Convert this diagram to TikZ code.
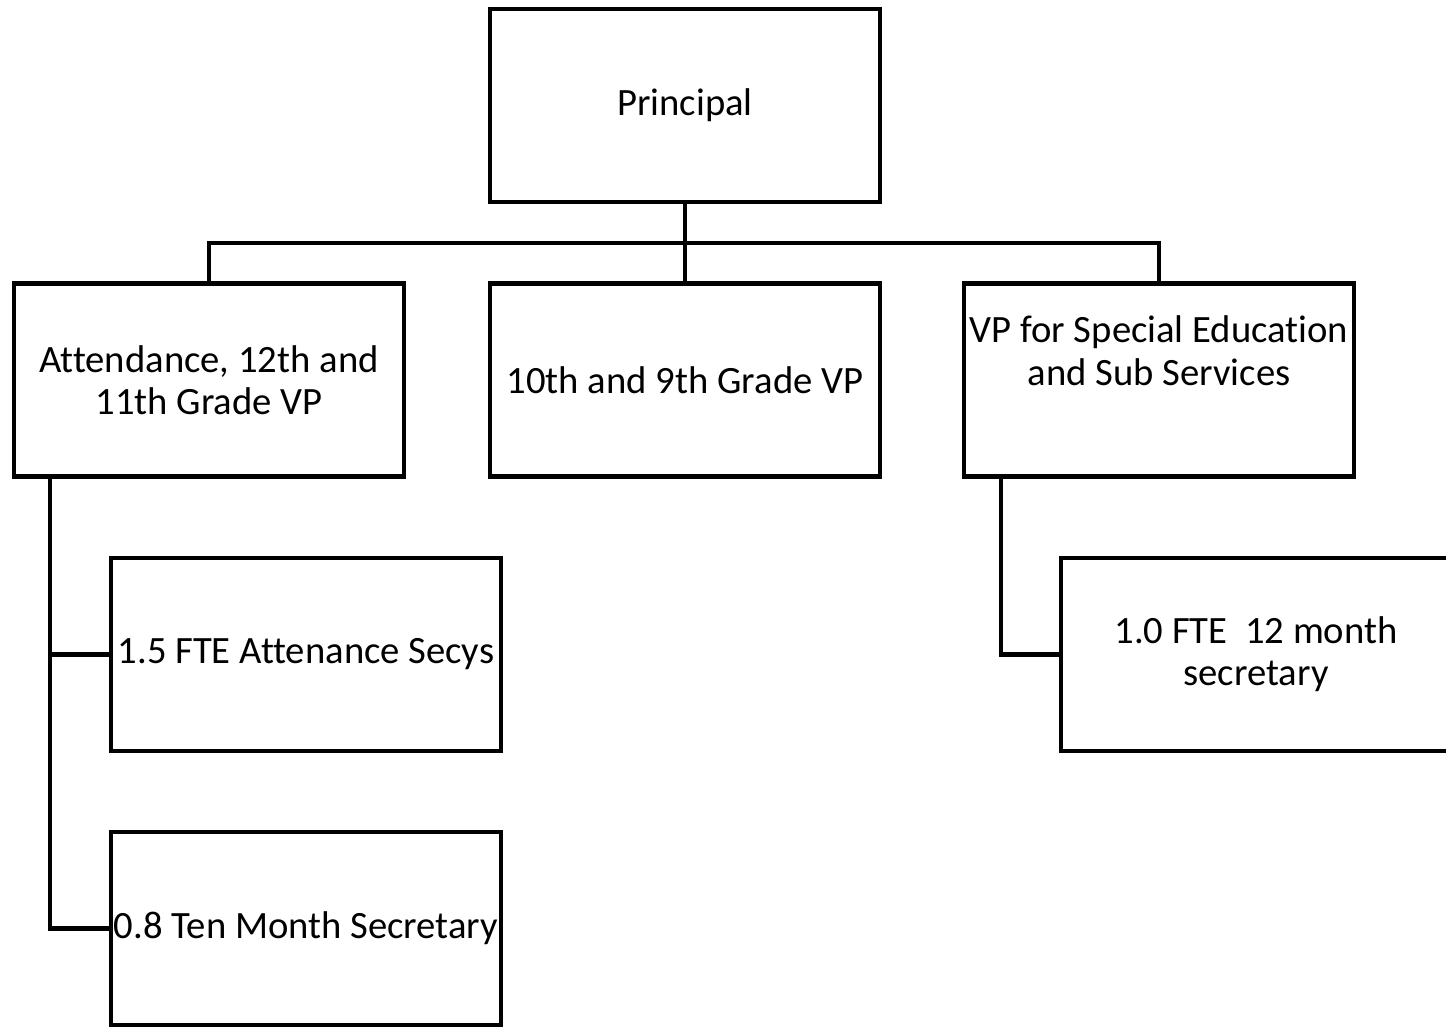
\documentclass[tikz,border=0pt]{standalone}
\usepackage{fontspec}
\setmainfont{Carlito}[Ligatures=NoCommon]
\usetikzlibrary{positioning,calc}

\begin{document}
\begin{tikzpicture}[line width=2.6pt,
    every node/.style={font=\fontsize{22}{24}\selectfont},
    box/.style={draw, minimum width=7.8cm, minimum height=3.86cm, inner sep=0pt, align=center},
    lbl/.style={align=center, inner sep=0pt}]
    \useasboundingbox (0,0) rectangle (28.92,-20.54);

    % top level
    \node[box] (principal) at (13.7,-2.11) {Principal};

    % vice principals
    \node[box] (attend) at (4.18,-7.6) {Attendance, 12th and\\11th Grade VP};
    \node[box] (tenth) at (13.7,-7.6) {10th and 9th Grade VP};
    \node[box] (vpsped) at (23.18,-7.6) {};
    \node[lbl, below=0.65cm of vpsped.north] (vpspedtxt) {VP for Special Education\\and Sub Services};

    % secretaries
    \node[box] (attsecy) at (6.12,-13.09) {1.5 FTE Attenance Secys};
    \node[box] (tenmo) at (6.12,-18.57) {0.8 Ten Month Secretary};
    \node[box] (spedsecy) at (25.12,-13.09) {1.0 FTE\ \ 12 month\\secretary};

    % connectors
    \coordinate (bar) at (13.7,-4.86);
    \coordinate (ltrunk) at (1.0,-9.54);
    \coordinate (rtrunk) at (20.02,-9.54);

    \draw (principal) -- (tenth);
    \draw (attend.north) |- (bar) -| (vpsped.north);
    \draw (ltrunk) |- (tenmo.west);
    \draw (ltrunk |- attsecy.west) -- (attsecy.west);
    \draw (rtrunk) |- (spedsecy.west);
\end{tikzpicture}
\end{document}
